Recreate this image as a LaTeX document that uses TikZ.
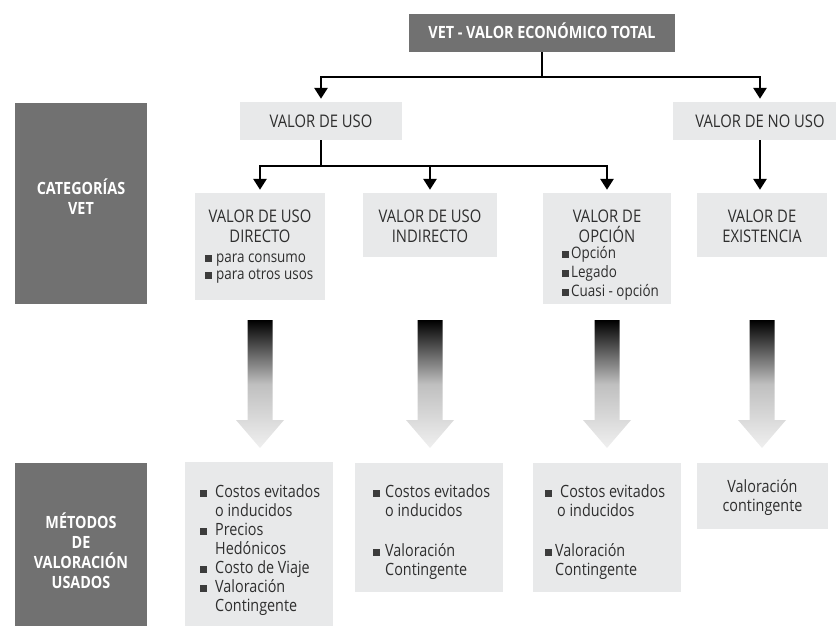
\documentclass[tikz,border=0pt]{standalone}
\usepackage{fontspec}
\setmainfont[FakeStretch=0.85]{Open Sans}
\usetikzlibrary{arrows.meta,calc}
\definecolor{darkbox}{HTML}{717171}
\definecolor{lightbox}{HTML}{E8E9EA}
\definecolor{txt}{HTML}{2E2E2E}
\definecolor{bul}{HTML}{3C3C3C}
\newcommand{\bsq}[1][5pt]{\textcolor{bul}{\rule{7pt}{7pt}}\hspace{#1}}
\newcommand{\garrow}[1]{\shade[gshade] (#1-12.5,320) -- (#1+12.5,320) -- (#1+12.5,420) -- (#1+24,420) -- (#1,448) -- (#1-24,420) -- (#1-12.5,420) -- cycle;}
\begin{document}
\begin{tikzpicture}[x=1pt,y=-1pt,
  darkbx/.style={fill=darkbox, draw=none, inner sep=0pt},
  lightbx/.style={fill=lightbox, draw=none, inner sep=0pt},
  tcap/.style={text=txt, font=\fontsize{17.4}{20}\selectfont, inner sep=0pt, anchor=base},
  tlow/.style={text=txt, font=\fontsize{15.8}{17}\selectfont, inner sep=0pt, anchor=base west},
  tbot/.style={text=txt, font=\fontsize{16.9}{18}\selectfont, inner sep=0pt, anchor=base west},
  tbotc/.style={text=txt, font=\fontsize{16.9}{18}\selectfont, inner sep=0pt, anchor=base},
  twhite/.style={text=white, font=\bfseries\fontsize{16.9}{20}\selectfont, inner sep=0pt, anchor=base},
  conn/.style={line width=2.8pt, black},
  arr/.style={conn, -{Triangle[width=13pt,length=11pt]}, shorten >=3pt},
  gshade/.style={top color=black, bottom color=gray!12, middle color=gray!50}]
\useasboundingbox (0,0) rectangle (836,626);
\clip (0,0) rectangle (836,626);

% top level
\node[darkbx, minimum width=266pt, minimum height=38pt, text=white,
  font=\bfseries\fontsize{16.9}{20}\selectfont, text height=12pt, text depth=0pt] (vet) at (542,33) {VET - VALOR ECONÓMICO TOTAL};
\node[lightbx, minimum width=162pt, minimum height=38pt, text=txt,
  font=\fontsize{17.4}{20}\selectfont, text height=12.4pt, text depth=0pt] (uso) at (321,121) {VALOR DE USO};
\node[lightbx, minimum width=174pt, minimum height=38pt, text=txt,
  font=\fontsize{17.4}{20}\selectfont, text height=12.4pt, text depth=0pt] (nouso) at (760,121) {VALOR DE NO USO};

% side labels
\node[darkbx, minimum width=132pt, minimum height=201pt] (cat) at (81,203.5) {};
\node[twhite] (cat1) at (81,194) {CATEGORÍAS};
\node[twhite] (cat2) at (81,214) {VET};

\node[darkbx, minimum width=132pt, minimum height=177pt] (met) at (81,551.5) {};
\node[twhite] (met1) at (81,528) {MÉTODOS};
\node[twhite] (met2) at (81,548) {DE};
\node[twhite] (met3) at (81,568) {VALORACIÓN};
\node[twhite] (met4) at (81,588) {USADOS};

% category boxes
\node[lightbx, minimum width=130pt, minimum height=107pt] (b1) at (260,246.5) {};
\node[lightbx, minimum width=134pt, minimum height=64pt] (b2) at (430,225) {};
\node[lightbx, minimum width=128pt, minimum height=111pt] (b3) at (607,248.5) {};
\node[lightbx, minimum width=130pt, minimum height=64pt] (b4) at (762,225) {};

\node[tcap] (b1a) at (260,222) {VALOR DE USO};
\node[tcap] (b1b) at (260,242) {DIRECTO};
\node[tlow] (b1c) at (205,262) {\bsq[4pt]para consumo};
\node[tlow] (b1d) at (205,279) {\bsq[4pt]para otros usos};

\node[tcap] (b2a) at (430,222) {VALOR DE USO};
\node[tcap] (b2b) at (430,242) {INDIRECTO};

\node[tcap] (b3a) at (607,222) {VALOR DE};
\node[tcap] (b3b) at (607,242) {OPCIÓN};
\node[tlow] (b3c) at (562,258) {\bsq[2pt]Opción};
\node[tlow] (b3d) at (562,277) {\bsq[2pt]Legado};
\node[tlow] (b3e) at (562,296) {\bsq[2pt]Cuasi - opción};

\node[tcap] (b4a) at (762,222) {VALOR DE};
\node[tcap] (b4b) at (762,242) {EXISTENCIA};

% method boxes
\node[lightbx, minimum width=148pt, minimum height=178pt] (m1) at (259,551) {};
\node[lightbx, minimum width=148pt, minimum height=129pt] (m2) at (429,527.5) {};
\node[lightbx, minimum width=148pt, minimum height=129pt] (m3) at (607,527.5) {};
\node[lightbx, minimum width=131pt, minimum height=66pt] (m4) at (762.5,496) {};

\node[tbot] (m1a) at (200,497) {\bsq[8pt]Costos evitados};
\node[tbot] (m1b) at (215,516) {o inducidos};
\node[tbot] (m1c) at (200,535) {\bsq[8pt]Precios};
\node[tbot] (m1d) at (215,554) {Hedónicos};
\node[tbot] (m1e) at (200,573) {\bsq[8pt]Costo de Viaje};
\node[tbot] (m1f) at (200,592) {\bsq[8pt]Valoración};
\node[tbot] (m1g) at (215,611) {Contingente};

\node[tbot] (m2a) at (373,497) {\bsq[5pt]Costos evitados};
\node[tbot] (m2b) at (385,516) {o inducidos};
\node[tbot] (m2c) at (373,556) {\bsq[5pt]Valoración};
\node[tbot] (m2d) at (385,575) {Contingente};

\node[tbot] (m3a) at (545,497) {\bsq[8pt]Costos evitados};
\node[tbot] (m3b) at (557,516) {o inducidos};
\node[tbot] (m3c) at (545,556) {\bsq[3pt]Valoración};
\node[tbot] (m3d) at (555,575) {Contingente};

\node[tbotc] (m4a) at (762.5,492) {Valoración};
\node[tbotc] (m4b) at (762.5,511) {contingente};

% connectors
\coordinate (j1) at (542,77);
\coordinate (j2) at (321,166);
\draw[conn] (vet.south) -- (j1);
\draw[arr] (j1) -| (uso.north);
\draw[arr] (j1) -| (nouso.north);
\draw[conn] (uso.south) -- (j2);
\draw[arr] (j2) -| (b1.north);
\draw[arr] (j2) -| (b3.north);
\draw[arr] (b2.north |- j2) -- (b2.north);
\draw[arr] (nouso.south) -- (nouso.south |- b4.north);

% gradient arrows
\garrow{260}
\garrow{430}
\garrow{607}
\garrow{762}
\end{tikzpicture}
\end{document}
